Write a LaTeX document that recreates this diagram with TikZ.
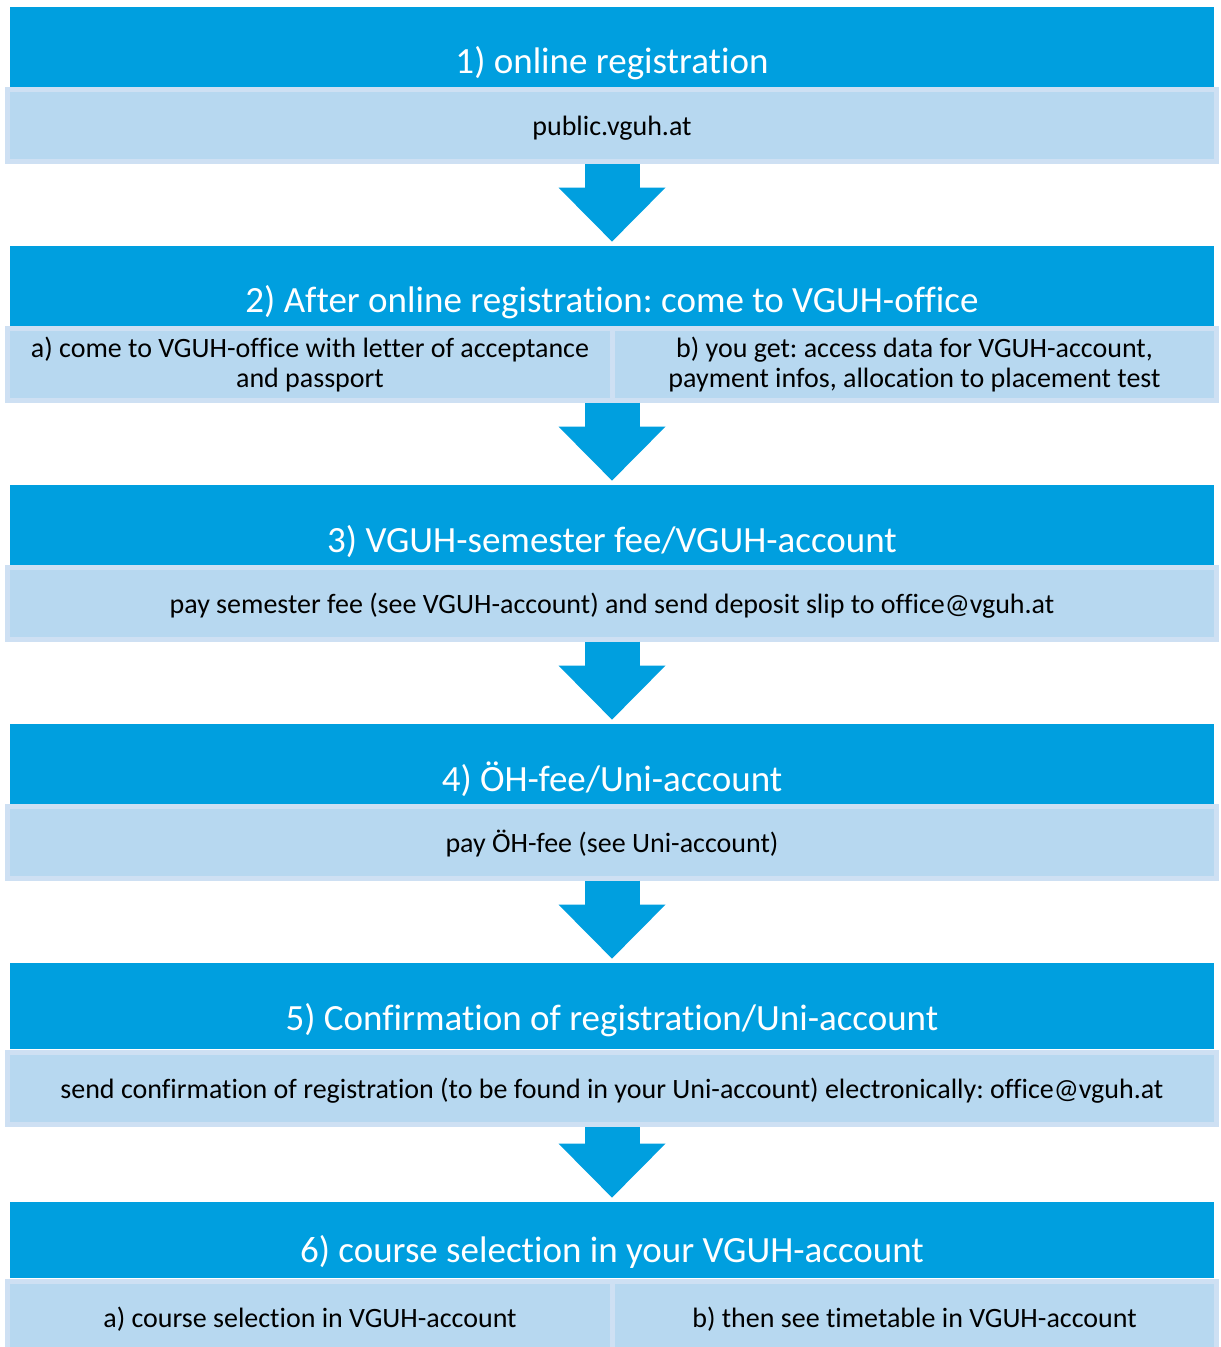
\documentclass[tikz,border=0pt]{standalone}
\usepackage{fontspec}
\setmainfont{Carlito}[Ligatures = NoCommon]
\frenchspacing
\usepackage{xcolor}
\usepackage{tikz}
\usetikzlibrary{arrows.meta}
\definecolor{stepblue}{RGB}{0,159,223}
\definecolor{infofill}{RGB}{183,216,240}
\definecolor{infoedge}{RGB}{206,224,243}
\tikzset{>=latex}
\tikzstyle{head} = [fill = stepblue, text = white, inner ysep = 0, minimum width = 602pt, text height = 33.5pt, text depth = 6.5pt, font = \fontsize{18.5}{22}\selectfont]
\tikzstyle{info} = [fill = infofill, draw = infoedge, line width = 2.5pt, minimum width = 604.5pt, minimum height = 36pt, text height = 12pt, text depth = 2pt, align = center, font = \fontsize{14}{15}\selectfont]
\tikzstyle{half} = [info, minimum width = 302.25pt]
\tikzstyle{down} = [draw = stepblue, line width = 27.5pt, shorten > = 2pt, -{Triangle[length = 27pt, width = 53.5pt, line width = 0pt]}]

\begin{document}
\begin{tikzpicture}[x = 0.5pt, y = -0.5pt]
\useasboundingbox (0, 0) rectangle (1220, 1347);
% steps
\node [head] (h1) at (612, 47) {1) online registration};
\node [info] (i1) at (612, 125.5) {public.vguh.at};
\node [head] (h2) at (612, 286) {2) After online registration: come to VGUH-office};
\node [half, text height = {}, text depth = {}] (i2a) at (310, 364.5) {a) come to VGUH-office with letter of acceptance\\and passport};
\node [half, text height = {}, text depth = {}] (i2b) at (914.5, 364.5) {b) you get: access data for VGUH-account,\\payment infos, allocation to placement test};
\node [head] (h3) at (612, 525) {3) VGUH-semester fee/VGUH-account};
\node [info] (i3) at (612, 603) {pay semester fee (see VGUH-account) and send deposit slip to office@vguh.at};
\node [head] (h4) at (612, 764) {4) ÖH-fee/Uni-account};
\node [info] (i4) at (612, 842) {pay ÖH-fee (see Uni-account)};
\node [head, text height = 33.5pt, text depth = 9.5pt] (h5) at (612, 1006) {5) Confirmation of registration/Uni-account};
\node [info] (i5) at (612, 1088.5) {send confirmation of registration (to be found in your Uni-account) electronically: office@vguh.at};
\node [head, text height = 30pt, text depth = 8pt] (h6) at (612, 1240) {6) course selection in your VGUH-account};
\node [half, minimum height = 35.5pt] (i6a) at (310, 1317) {a) course selection in VGUH-account};
\node [half, minimum height = 35.5pt] (i6b) at (914.5, 1317) {b) then see timetable in VGUH-account};
% arrows
\draw [down] (i1) -- (h2);
\draw [down] (h3.north |- i2a.south) -- (h3);
\draw [down] (i3) -- (h4);
\draw [down] (i4) -- (h5);
\draw [down] (i5) -- (h6);
\end{tikzpicture}
\end{document}
